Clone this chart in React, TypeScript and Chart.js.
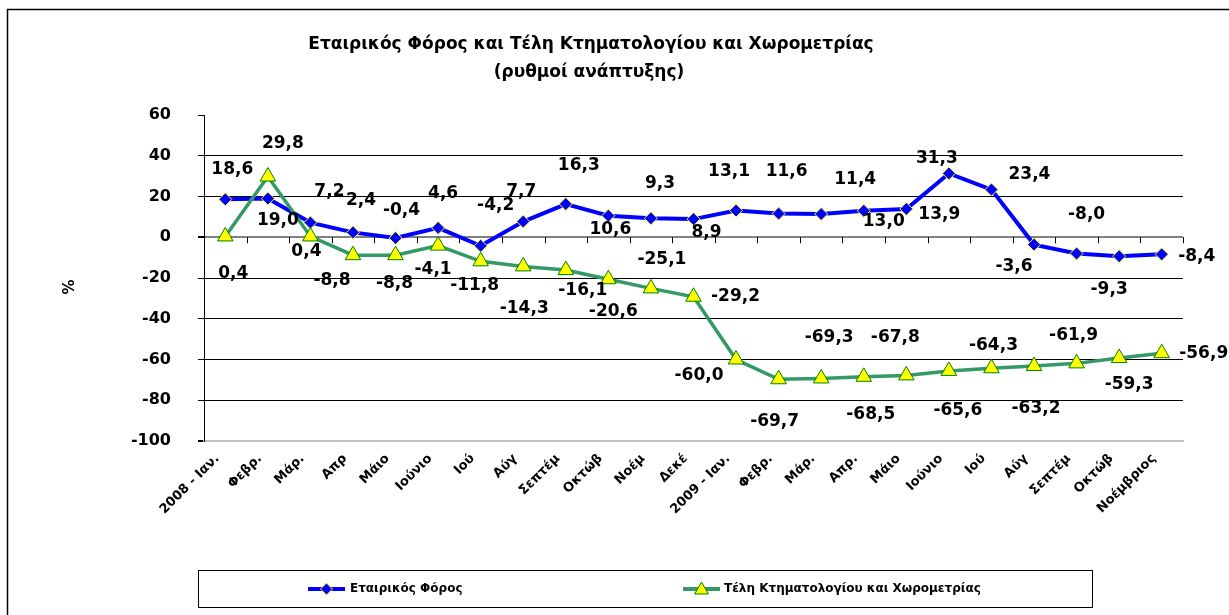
import React, { useEffect, useRef } from "react";
import { Chart, registerables } from "chart.js";

Chart.register(...registerables);

const categories = [
  "2008 - Ιαν.", "Φεβρ.", "Μάρ.", "Απρ", "Μάιο", "Ιούνιο", "Ιού", "Αύγ", "Σεπτέμ", "Οκτώβ", "Νοέμ", "Δεκέ",
  "2009 - Ιαν.", "Φεβρ.", "Μάρ.", "Απρ.", "Μάιο", "Ιούνιο", "Ιού", "Αύγ", "Σεπτέμ", "Οκτώβ", "Νοέμβριος",
];

const corporateTax = [
  18.6, 19.0, 7.2, 2.4, -0.4, 4.6, -4.2, 7.7, 16.3, 10.6, 9.3, 8.9,
  13.1, 11.6, 11.4, 13.0, 13.9, 31.3, 23.4, -3.6, -8.0, -9.3, -8.4,
];

const cadastreFees = [
  0.4, 29.8, 0.4, -8.8, -8.8, -4.1, -11.8, -14.3, -16.1, -20.6, -25.1, -29.2,
  -60.0, -69.7, -69.3, -68.5, -67.8, -65.6, -64.3, -63.2, -61.9, -59.3, -56.9,
];

const yTicks = [60, 40, 20, 0, -20, -40, -60, -80, -100];

const seriesNames = ["Εταιρικός Φόρος", "Τέλη Κτηματολογίου και Χωρομετρίας"];
const titleLines = ["Εταιρικός Φόρος και Τέλη Κτηματολογίου και Χωρομετρίας", "(ρυθμοί ανάπτυξης)"];
const yAxisTitle = "%";

// label placement (style): offsets of label centre from its point, in px
const blueLabelOffsets = [
  [7, -30], [10, 22], [19, -31], [8, -32], [6, -27], [5, -34], [15, -40], [-2, -30], [13, -38], [2, 14], [9, -35], [13, 13],
  [-7, -39], [8, -42], [34, -34], [20, 11], [33, 6], [-12, -15], [38, -15], [-20, 22], [10, -39], [-10, 33], [35, 2],
];
const greenLabelOffsets = [
  [8, 37], [15, -33], [-4, 15], [-21, 25], [-1, 28], [-5, 24], [-6, 24], [1, 42], [17, 21], [5, 32], [11, -29], [42, 0],
  [-37, 16], [-4, 42], [8, -41], [7, 38], [-11, -38], [9, 40], [2, -23], [2, 43], [-3, -28], [10, 27], [42, 0],
];

const FONT = '"DejaVu Sans", "Noto Sans", sans-serif';
const BLUE = "#0000FF";
const GREEN = "#339966";
const YELLOW = "#FFFF00";
const DKGREEN = "#008000";

const fmt = (v: number) => v.toFixed(1).replace(".", ",");

function drawDiamond(ctx: CanvasRenderingContext2D, x: number, y: number, r: number) {
  ctx.beginPath();
  ctx.moveTo(x, y - r);
  ctx.lineTo(x + r, y);
  ctx.lineTo(x, y + r);
  ctx.lineTo(x - r, y);
  ctx.closePath();
  ctx.fillStyle = BLUE;
  ctx.fill();
  ctx.strokeStyle = YELLOW;
  ctx.lineWidth = 1;
  ctx.stroke();
}

function drawTriangle(ctx: CanvasRenderingContext2D, x: number, y: number, r: number) {
  ctx.beginPath();
  ctx.moveTo(x, y - r);
  ctx.lineTo(x + r * 0.866, y + r * 0.5);
  ctx.lineTo(x - r * 0.866, y + r * 0.5);
  ctx.closePath();
  ctx.fillStyle = YELLOW;
  ctx.fill();
  ctx.strokeStyle = DKGREEN;
  ctx.lineWidth = 1;
  ctx.stroke();
}

const decor = {
  id: "decor",
  beforeDraw(chart: any) {
    const { ctx, width, height } = chart;
    ctx.save();
    ctx.fillStyle = "#fff";
    ctx.fillRect(0, 0, width, height);
    ctx.strokeStyle = "#000";
    ctx.lineWidth = 1.5;
    ctx.beginPath();
    ctx.moveTo(7.5, height);
    ctx.lineTo(7.5, 9.5);
    ctx.lineTo(width, 9.5);
    ctx.stroke();
    ctx.restore();
  },
  beforeDatasetsDraw(chart: any) {
    const { ctx } = chart;
    const xs = chart.scales.x;
    const ys = chart.scales.y;
    const y0 = ys.getPixelForValue(0);
    const half = (xs.getPixelForValue(1) - xs.getPixelForValue(0)) / 2;
    ctx.save();
    ctx.strokeStyle = "#000";
    ctx.lineWidth = 1;
    for (let i = 0; i <= categories.length; i++) {
      const x = Math.round(xs.getPixelForValue(0) - half + i * half * 2) + 0.5;
      ctx.beginPath();
      ctx.moveTo(x, y0);
      ctx.lineTo(x, y0 + 6);
      ctx.stroke();
    }
    ctx.restore();
  },
  afterDatasetsDraw(chart: any) {
    const { ctx } = chart;
    ctx.save();
    ctx.font = `bold 17px ${FONT}`;
    ctx.fillStyle = "#000";
    ctx.textAlign = "center";
    ctx.textBaseline = "middle";
    const offsets = [blueLabelOffsets, greenLabelOffsets];
    chart.data.datasets.forEach((ds: any, di: number) => {
      const meta = chart.getDatasetMeta(di);
      meta.data.forEach((pt: any, i: number) => {
        const [dx, dy] = offsets[di][i];
        ctx.fillText(fmt(ds.data[i]), pt.x + dx, pt.y + dy);
      });
    });
    ctx.restore();
  },
  afterDraw(chart: any) {
    const { ctx } = chart;
    ctx.save();
    ctx.fillStyle = "#000";
    ctx.textAlign = "center";
    ctx.textBaseline = "middle";
    ctx.font = `bold 17px ${FONT}`;
    ctx.fillText(titleLines[0], 591, 45);
    ctx.fillText(titleLines[1], 589, 73);

    ctx.save();
    ctx.translate(70, 287);
    ctx.rotate(-Math.PI / 2);
    ctx.font = `bold 15px ${FONT}`;
    ctx.fillText(yAxisTitle, 0, 0);
    ctx.restore();

    // legend
    ctx.strokeStyle = "#000";
    ctx.lineWidth = 1;
    ctx.strokeRect(198.5, 570.5, 894, 37);
    const ly = 589;
    ctx.font = `bold 12px ${FONT}`;
    ctx.textAlign = "left";
    const items = [
      { x0: 308, x1: 345, tx: 350, color: BLUE, w: 4, marker: "d" },
      { x0: 683, x1: 720, tx: 724, color: GREEN, w: 4, marker: "t" },
    ];
    items.forEach((it, i) => {
      ctx.strokeStyle = it.color;
      ctx.lineWidth = it.w;
      ctx.beginPath();
      ctx.moveTo(it.x0, ly);
      ctx.lineTo(it.x1, ly);
      ctx.stroke();
      const mx = (it.x0 + it.x1) / 2;
      if (it.marker === "d") drawDiamond(ctx, mx, ly, 6);
      else drawTriangle(ctx, mx, ly + 1, 8);
      ctx.fillStyle = "#000";
      ctx.fillText(chart.data.datasets[i].label, it.tx, ly);
    });
    ctx.restore();
  },
};

export default function App() {
  const ref = useRef<HTMLCanvasElement | null>(null);
  useEffect(() => {
    if (!ref.current) return;
    const chart = new Chart(ref.current, {
      type: "line",
      data: {
        labels: categories,
        datasets: [
          {
            label: seriesNames[0],
            data: corporateTax,
            borderColor: BLUE,
            borderWidth: 4,
            pointStyle: "rectRot",
            pointRadius: 6.5,
            pointBackgroundColor: BLUE,
            pointBorderColor: YELLOW,
            pointBorderWidth: 1,
            tension: 0,
            order: 1,
          },
          {
            label: seriesNames[1],
            data: cadastreFees,
            borderColor: GREEN,
            borderWidth: 3.5,
            pointStyle: "triangle",
            pointRadius: 9,
            pointBackgroundColor: YELLOW,
            pointBorderColor: DKGREEN,
            pointBorderWidth: 1,
            tension: 0,
            order: 0,
          },
        ],
      },
      plugins: [decor],
      options: {
        responsive: false,
        animation: false,
        events: [],
        layout: { padding: { top: 115, right: 46, left: 0, bottom: 0 } },
        plugins: { legend: { display: false }, tooltip: { enabled: false }, title: { display: false } },
        scales: {
          x: {
            offset: true,
            grid: { display: false, drawTicks: false },
            border: { display: true, color: "#C0C0C0", width: 2 },
            ticks: {
              autoSkip: false,
              maxRotation: 45,
              minRotation: 45,
              padding: 10,
              labelOffset: -8,
              color: "#000",
              font: { family: FONT, size: 13, weight: "bold" },
            },
            afterFit: (s: any) => { s.height = 174; },
          },
          y: {
            min: -100,
            max: 60,
            afterBuildTicks: (s: any) => { s.ticks = yTicks.map((v) => ({ value: v })); },
            grid: {
              color: (c: any) => {
                const v = c.tick && c.tick.value;
                if (v === 60) return "rgba(0,0,0,0)";
                if (v === 0) return "#808080";
                if (v === -100) return "#C0C0C0";
                return "#000";
              },
              lineWidth: (c: any) => (c.tick && (c.tick.value === 0 || c.tick.value === -100) ? 2 : 1),
              tickColor: "#000",
              tickLength: 6,
            },
            border: { display: true, color: "#000", width: 1 },
            ticks: {
              padding: 27,
              color: "#000",
              font: { family: FONT, size: 16, weight: "bold" },
              callback: (v: any) => String(v),
            },
            afterFit: (s: any) => { s.width = 204; },
          },
        },
      },
    });
    return () => chart.destroy();
  }, []);
  return (
    <div style={{ position: "absolute", left: 0, top: 0, width: 1229, height: 615 }}>
      <canvas ref={ref} width={1229} height={615} />
    </div>
  );
}
